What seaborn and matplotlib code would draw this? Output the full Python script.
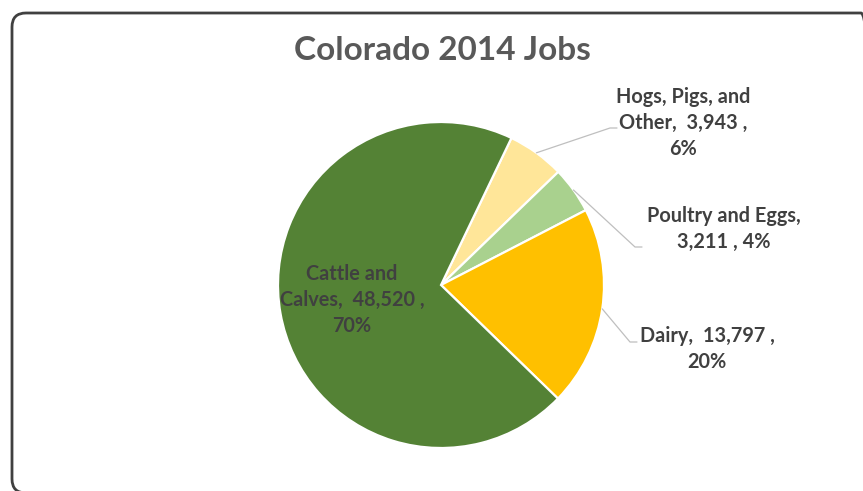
import matplotlib
matplotlib.use("Agg")
import matplotlib.pyplot as plt
import seaborn as sns
import numpy as np
from matplotlib.patches import FancyBboxPatch
from matplotlib.transforms import IdentityTransform

# ---- data ----
categories = ["Hogs, Pigs, and Other", "Poultry and Eggs", "Dairy", "Cattle and Calves"]
jobs = [3943, 3211, 13797, 48520]
pct_labels = ["6%", "4%", "20%", "70%"]
colors = ["#FFE699", "#A9D18E", "#FFC000", "#548235"]
title = "Colorado 2014 Jobs"

sns.set_theme(style="white")
plt.rcParams['font.family'] = ['Lato', 'DejaVu Sans']

W, H = 863, 491
fig = plt.figure(figsize=(W / 100, H / 100), dpi=100)
fig.patch.set_facecolor("white")

# pie geometry (pixels)
CX, CY, R = 441, 285, 163

ax = fig.add_axes([0, 0, 1, 1])
ax.axis("off")


def px(x, y):
    return ((x - CX) / R, (CY - y) / R)


start = 90 - 25.6
wedges, _ = ax.pie(jobs, colors=colors, startangle=start, counterclock=False,
                   radius=1.0, center=(0, 0),
                   wedgeprops=dict(edgecolor="white", linewidth=1.6))
ax.set_aspect("equal")
ax.set_xlim(-CX / R, (W - CX) / R)
ax.set_ylim(-(H - CY) / R, CY / R)

txt_color = "#404040"
fs = 14.3


def fmt(v):
    return f"{v:,}"


texts = [
    (f"Hogs, Pigs, and\nOther,  {fmt(jobs[0])} ,\n{pct_labels[0]}", (683, 123), [(610, 128), (617, 128)]),
    (f"Poultry and Eggs,\n{fmt(jobs[1])} , {pct_labels[1]}", (724, 229), [(635, 247), (642, 247)]),
    (f"Dairy,  {fmt(jobs[2])} ,\n{pct_labels[2]}", (707, 349), [(630, 342), (637, 342)]),
    (f"Cattle and\nCalves,  {fmt(jobs[3])} ,\n{pct_labels[3]}", (352, 300), None),
]

for w, (t, (tx, ty), elbow) in zip(wedges, texts):
    ang = np.deg2rad((w.theta1 + w.theta2) / 2)
    if elbow is not None:
        sx, sy = np.cos(ang), np.sin(ang)
        e1 = px(*elbow[0])
        e2 = px(*elbow[1])
        ax.plot([sx, e1[0], e2[0]], [sy, e1[1], e2[1]], color="#BFBFBF", lw=0.9, zorder=3)
    x, y = px(tx, ty)
    ax.text(x, y, t, ha="center", va="center", multialignment="center",
            fontsize=fs, fontweight="bold", color=txt_color, linespacing=1.35, zorder=4)

# title
tx, ty = px(442, 50)
ax.text(tx, ty, title, ha="center", va="center", fontsize=24, fontweight="bold", color="#595959")

# rounded border (pixel coords, origin bottom-left)
left, top, right, bottom = 12, 13, 875, 493
border = FancyBboxPatch((left, H - bottom), right - left, bottom - top,
                        boxstyle="round,pad=0,rounding_size=14",
                        transform=IdentityTransform(), fill=False,
                        edgecolor="#404040", linewidth=2.0)
fig.patches.append(border)

fig.savefig("out.png", dpi=100, facecolor="white")
